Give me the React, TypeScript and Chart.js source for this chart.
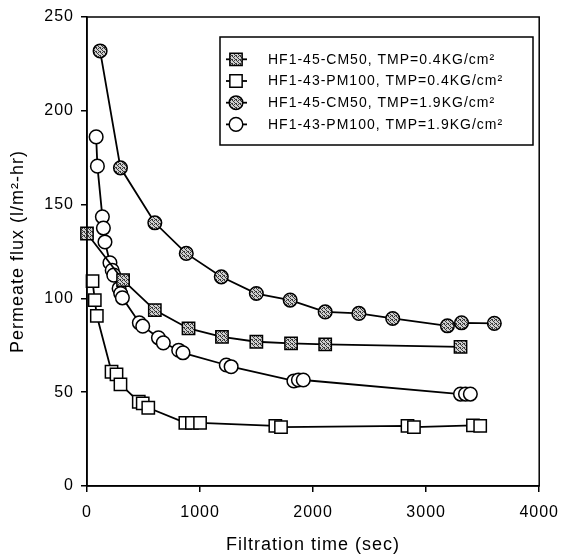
import React, { useEffect, useRef } from 'react';
import { Chart, registerables } from 'chart.js';

Chart.register(...registerables);

// ---- Data (time in sec, flux in l/m2-hr) ----
const timeCM50Low = [0, 319, 600, 898, 1194, 1498, 1805, 2107, 3304];
const fluxCM50Low = [134.6, 109.7, 93.8, 84, 79.5, 76.9, 76, 75.5, 74.2];

const timePM100Low = [49, 69, 87, 217, 261, 296, 458, 493, 542, 870, 928, 1000, 1666, 1716, 2835, 2892, 3414, 3478];
const fluxPM100Low = [109.2, 99.1, 90.7, 60.9, 59.5, 54.2, 44.9, 44, 41.7, 33.7, 33.7, 33.7, 32, 31.4, 32, 31.4, 32.3, 32];

const timeCM50High = [116, 296, 600, 878, 1188, 1498, 1797, 2107, 2405, 2704, 3188, 3313, 3603];
const fluxCM50High = [231.9, 169.6, 140.3, 124, 111.5, 102.6, 99.1, 92.8, 92, 89.3, 85.4, 87, 86.7];

const timePM100High = [81, 92, 136, 145, 159, 203, 223, 237, 284, 298, 313, 463, 493, 632, 675, 811, 849, 1232, 1275, 1830, 1870, 1913, 3304, 3348, 3391];
const fluxPM100High = [186.1, 170.5, 143.5, 137.5, 130.1, 119, 115, 112.4, 105.3, 102.6, 100.3, 87, 85.2, 79, 76.3, 72.4, 71, 64.5, 63.6, 56, 56.5, 56.5, 49, 49, 49];

const seriesLabels = [
  'HF1-45-CM50, TMP=0.4KG/cm\u00B2',
  'HF1-43-PM100, TMP=0.4KG/cm\u00B2',
  'HF1-45-CM50, TMP=1.9KG/cm\u00B2',
  'HF1-43-PM100, TMP=1.9KG/cm\u00B2',
];

const xTicks = [0, 1000, 2000, 3000, 4000];
const yTicks = [0, 50, 100, 150, 200, 250];

const FONT = "'Liberation Sans', Arial, sans-serif";

const toPoints = (xs: number[], ys: number[]) => xs.map((x, i) => ({ x, y: ys[i] }));

function makeHatch(): CanvasPattern | string {
  const c = document.createElement('canvas');
  c.width = 4;
  c.height = 4;
  const g = c.getContext('2d');
  if (!g) return '#888';
  g.fillStyle = '#cfcfcf';
  g.fillRect(0, 0, 4, 4);
  g.fillStyle = '#3a3a3a';
  g.fillRect(0, 0, 1, 1);
  g.fillRect(1, 1, 1, 1);
  g.fillRect(2, 2, 1, 1);
  g.fillRect(3, 3, 1, 1);
  g.fillRect(2, 0, 1, 1);
  g.fillRect(0, 3, 1, 1);
  const p = g.createPattern(c, 'repeat');
  return p || '#888';
}

export default function App() {
  const ref = useRef<HTMLCanvasElement>(null);

  useEffect(() => {
    document.body.style.margin = '0';
    const hatch = makeHatch();
    const SQ_R = 8.7;
    const CI_R = 6.8;

    const styles = [
      { style: 'rect', r: SQ_R, fill: hatch },
      { style: 'rect', r: SQ_R, fill: '#ffffff' },
      { style: 'circle', r: CI_R, fill: hatch },
      { style: 'circle', r: CI_R, fill: '#ffffff' },
    ];
    const dataSets = [
      toPoints(timeCM50Low, fluxCM50Low),
      toPoints(timePM100Low, fluxPM100Low),
      toPoints(timeCM50High, fluxCM50High),
      toPoints(timePM100High, fluxPM100High),
    ];

    const spacingPlugin = {
      id: 'spacing',
      beforeDraw(c: any) {
        c.ctx.letterSpacing = '1px';
      },
    };

    const framePlugin = {
      id: 'frame',
      afterDraw(c: any) {
        const { ctx, chartArea } = c;
        ctx.save();
        ctx.strokeStyle = '#000';
        ctx.lineWidth = 1.5;
        ctx.strokeRect(chartArea.left, chartArea.top, chartArea.right - chartArea.left, chartArea.bottom - chartArea.top);
        ctx.restore();
      },
    };

    const legendPlugin = {
      id: 'customLegend',
      afterDraw(c: any) {
        const ctx: CanvasRenderingContext2D = c.ctx;
        const box = { left: 220, top: 37, right: 533, bottom: 145 };
        const rowY0 = 59.3;
        const rowStep = 21.7;
        ctx.save();
        ctx.fillStyle = '#fff';
        ctx.fillRect(box.left, box.top, box.right - box.left, box.bottom - box.top);
        ctx.strokeStyle = '#000';
        ctx.lineWidth = 1.5;
        ctx.strokeRect(box.left, box.top, box.right - box.left, box.bottom - box.top);
        (ctx as any).letterSpacing = '1px';
        ctx.font = `14px ${FONT}`;
        ctx.textBaseline = 'middle';
        ctx.textAlign = 'left';
        seriesLabels.forEach((label, i) => {
          const y = rowY0 + i * rowStep;
          const cx = 236;
          ctx.beginPath();
          ctx.moveTo(226, y);
          ctx.lineTo(247, y);
          ctx.lineWidth = 1.8;
          ctx.strokeStyle = '#000';
          ctx.stroke();
          const st = styles[i];
          ctx.beginPath();
          if (st.style === 'rect') {
            const h = st.r * Math.SQRT1_2;
            ctx.rect(cx - h, y - h, 2 * h, 2 * h);
          } else {
            ctx.arc(cx, y, st.r, 0, Math.PI * 2);
          }
          ctx.fillStyle = st.fill as any;
          ctx.fill();
          ctx.lineWidth = 1.5;
          ctx.stroke();
          ctx.fillStyle = '#000';
          ctx.fillText(label, 268, y + 0.5);
        });
        ctx.restore();
      },
    };

    const chart = new Chart(ref.current as HTMLCanvasElement, {
      type: 'line',
      data: {
        datasets: dataSets.map((d, i) => ({
          label: seriesLabels[i],
          data: d,
          borderColor: '#000',
          borderWidth: 1.8,
          pointStyle: styles[i].style as any,
          pointRadius: styles[i].r,
          pointBorderColor: '#000',
          pointBorderWidth: 1.5,
          pointBackgroundColor: styles[i].fill as any,
          fill: false,
          tension: 0,
          clip: false as any,
        })),
      },
      options: {
        responsive: false,
        animation: false,
        devicePixelRatio: 1,
        layout: { padding: { top: 17, right: 21, left: 0, bottom: 0 } },
        plugins: { legend: { display: false }, tooltip: { enabled: false } },
        scales: {
          x: {
            type: 'linear',
            min: xTicks[0],
            max: xTicks[xTicks.length - 1],
            afterBuildTicks: (s: any) => {
              s.ticks = xTicks.map((v) => ({ value: v }));
            },
            ticks: {
              callback: (v: any) => String(v),
              color: '#000',
              font: { family: FONT, size: 16 },
              padding: 11,
              maxRotation: 0,
              autoSkip: false,
            },
            grid: { drawOnChartArea: false, drawTicks: true, tickLength: 6, color: '#000', lineWidth: 1.5 },
            border: { display: true, color: '#000', width: 1.5 },
            title: {
              display: true,
              text: 'Filtration time (sec)',
              color: '#000',
              font: { family: FONT, size: 18 },
              padding: { top: 0, bottom: 2 },
            },
            afterFit: (s: any) => {
              s.height = 72;
            },
          },
          y: {
            type: 'linear',
            min: yTicks[0],
            max: yTicks[yTicks.length - 1],
            afterBuildTicks: (s: any) => {
              s.ticks = yTicks.map((v) => ({ value: v }));
            },
            ticks: {
              callback: (v: any) => String(v),
              color: '#000',
              font: { family: FONT, size: 16 },
              padding: 7,
              autoSkip: false,
            },
            grid: { drawOnChartArea: false, drawTicks: true, tickLength: 6, color: '#000', lineWidth: 1.5 },
            border: { display: true, color: '#000', width: 1.5 },
            title: {
              display: true,
              text: 'Permeate flux (l/m\u00B2-hr)',
              color: '#000',
              font: { family: FONT, size: 18 },
              padding: { top: 7, bottom: 0 },
            },
            afterFit: (s: any) => {
              s.width = 87;
            },
          },
        },
      },
      plugins: [spacingPlugin, framePlugin, legendPlugin],
    });

    return () => chart.destroy();
  }, []);

  return (
    <div style={{ width: 568, height: 558 }}>
      <canvas ref={ref} width={568} height={558} style={{ display: 'block' }} />
    </div>
  );
}
